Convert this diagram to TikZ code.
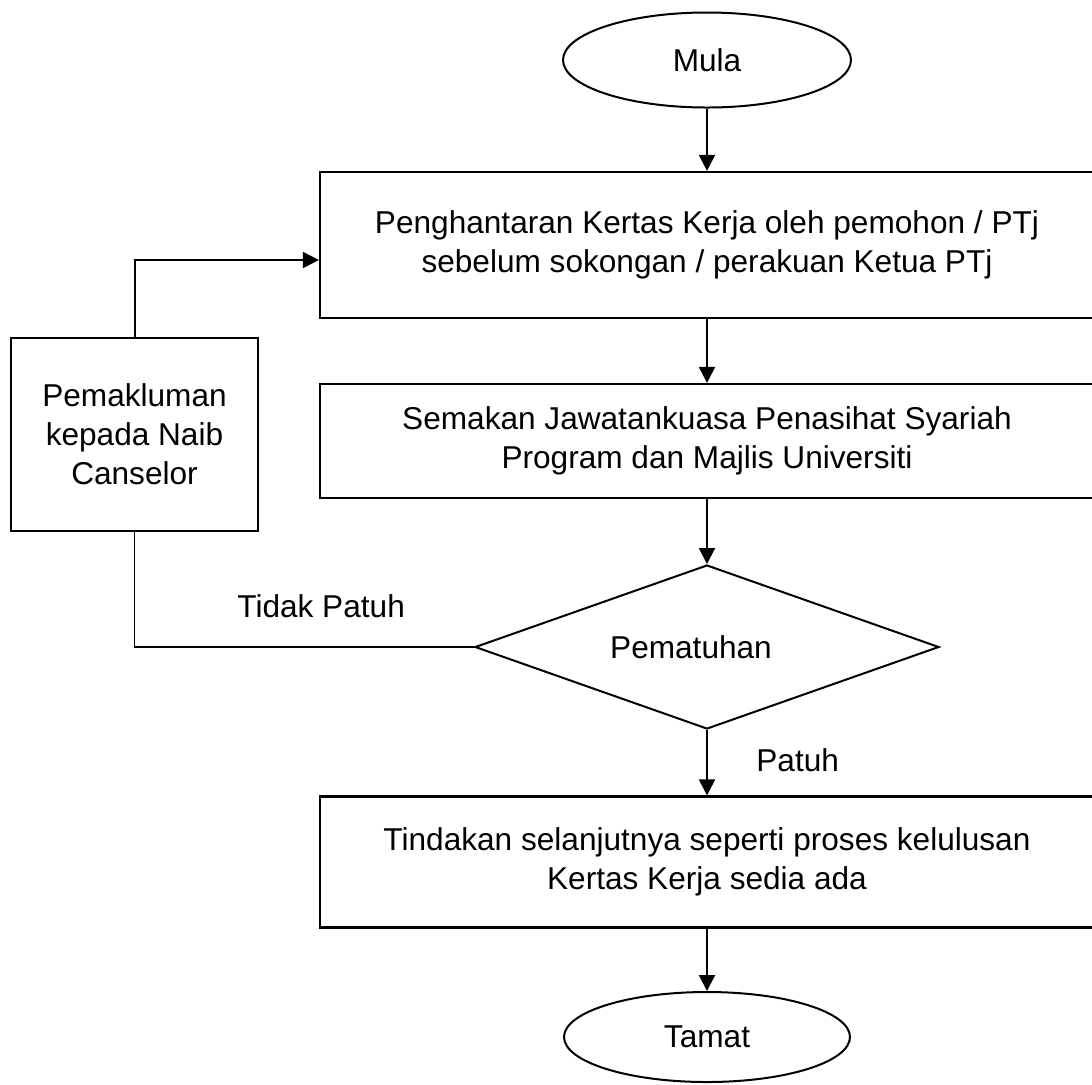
\documentclass[tikz,border=0pt]{standalone}
\usepackage{fontspec}
\setmainfont{Liberation Sans}
\usetikzlibrary{shapes.geometric,arrows.meta,positioning}

\begin{document}
\begin{tikzpicture}[x=0.5pt,y=-0.5pt,
  every node/.style={font=\fontsize{15.8}{19.5}\selectfont},
  terminal/.style={draw,line width=1pt,ellipse,inner sep=0pt},
  procbox/.style={draw,line width=1.1pt,rectangle,inner sep=0pt,align=center,minimum width=387pt},
  decision/.style={draw,line width=1pt,diamond,inner sep=0pt,minimum width=232pt,minimum height=82pt},
  flow/.style={line width=1pt,-{Triangle[length=8pt,width=8pt]}},
  back/.style={line width=0.7pt}]
\useasboundingbox (0,0) rectangle (1092,1084);
\clip (0,0) rectangle (1092,1084);

%Shape: Ellipse
\node [terminal,minimum width=144pt,minimum height=47.5pt] (mula) at (707,60) {Mula};
%Shape: Rectangle
\node [procbox,minimum height=73pt] (kertas) at (707,245) {Penghantaran Kertas Kerja oleh pemohon / PTj\\sebelum sokongan / perakuan Ketua PTj};
\node [procbox,minimum height=57pt] (semakan) at (707,441) {Semakan Jawatankuasa Penasihat Syariah\\Program dan Majlis Universiti};
%Shape: Diamond
\node [decision] (pematuhan) at (707,647) {\hspace*{-16pt}Pematuhan};
\node [procbox,minimum height=65.5pt] (tindakan) at (707,862) {Tindakan selanjutnya seperti proses kelulusan\\Kertas Kerja sedia ada};
\node [terminal,minimum width=143pt,minimum height=45pt] (tamat) at (707,1037) {Tamat};
\node [procbox,minimum width=123.5pt,minimum height=96.5pt] (makluman) at (134.5,434.5) {Pemakluman\\kepada Naib\\Canselor};

% Text Node
\node [anchor=base west,inner sep=0pt] (lbltidak) at (237,617) {Tidak Patuh};
\node [anchor=base west,inner sep=0pt] (lblpatuh) at (756,771) {Patuh};

%Straight Lines
\draw [flow] (mula) -- (kertas);
\draw [flow] (kertas) -- (semakan);
\draw [flow] (semakan) -- (pematuhan);
\draw [flow] (pematuhan) -- (tindakan);
\draw [flow] (tindakan) -- (tamat);

%Feedback
\coordinate (sudut) at (makluman.south |- pematuhan.west);
\draw [back] (pematuhan.west) -- (sudut) -- (makluman.south);
\draw [flow] (makluman.north) |- ([yshift=-7.5pt]kertas.west);

\end{tikzpicture}
\end{document}
